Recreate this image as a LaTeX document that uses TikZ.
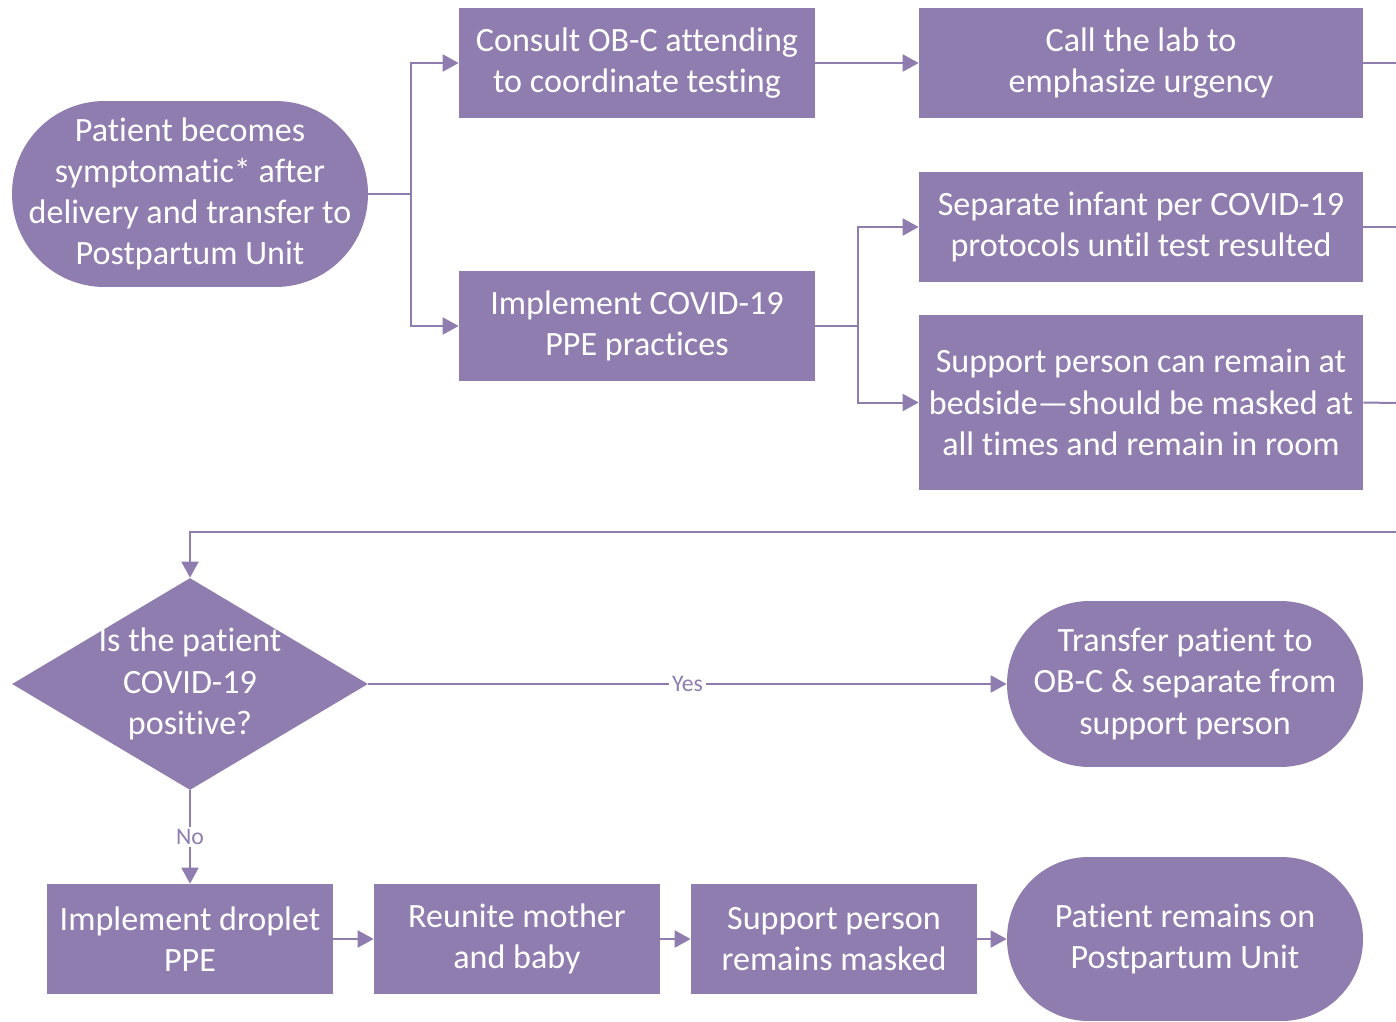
\documentclass[tikz,border=0pt]{standalone}
\usepackage{fontspec}
\setmainfont{Carlito}[Ligatures=NoCommon]
\usetikzlibrary{arrows.meta,shapes.geometric}
\definecolor{lav}{RGB}{143,125,175}

\begin{document}
\begin{tikzpicture}[x=0.02cm, y=-0.02cm,
		box/.style={fill=lav, text=white, align=center, inner sep=0pt, minimum height=2.2cm, font=\fontsize{19.4}{23.4}\selectfont},
		term/.style={box, minimum width=7.12cm},
		arr/.style={draw=lav, line width=0.04cm, -{Triangle[length=0.32cm,width=0.34cm]}},
		link/.style={draw=lav, line width=0.04cm},
		lbl/.style={fill=white, text=lav, inner sep=1.5pt, font=\fontsize{13.5}{15}\selectfont}]
			%%%%% START %%%%%
			
			\useasboundingbox (0, 0) rectangle (1396, 1021);
			
			\node[term, minimum height=3.72cm, rounded corners=1.85cm] (start) at (190, 194) {Patient becomes\\symptomatic* after\\delivery and transfer to\\Postpartum Unit};
			\node[box, minimum width=7.12cm] (consult) at (637, 63) {Consult OB-C attending\\to coordinate testing};
			\node[box, minimum width=7.12cm] (ppe) at (637, 326) {Implement COVID-19\\PPE practices};
			\node[box, minimum width=8.88cm] (lab) at (1141, 63) {Call the lab to\\emphasize urgency};
			\node[box, minimum width=8.88cm] (infant) at (1141, 227) {Separate infant per COVID-19\\protocols until test resulted};
			\node[box, minimum width=8.88cm, minimum height=3.5cm] (support) at (1141, 402.5) {Support person can remain at\\bedside—should be masked at\\all times and remain in room};
			
			\coordinate (e1) at (1396, 63);
			\coordinate (e2) at (1396, 227);
			\coordinate (e3) at (1396, 403);
			\coordinate (e4) at (1396, 532);
			
			\draw[arr] (start.east) -- ++(43, 0) |- (consult.west);
			\draw[arr] (start.east) -- ++(43, 0) |- (ppe.west);
			\draw[arr] (consult.east) -- (lab.west);
			\draw[arr] (ppe.east) -- ++(43, 0) |- (infant.west);
			\draw[arr] (ppe.east) -- ++(43, 0) |- (support.west);
			\draw[link] (lab.east) -- (e1);
			\draw[link] (infant.east) -- (e2);
			\draw[link] (support.east) -- (e3);
			
			\node[diamond, fill=lav, inner sep=0pt, minimum width=7.12cm, minimum height=4.24cm] (dec) at (190, 684) {};
			\node[box, fill=none, minimum height=0pt] (dectext) at (dec) {Is the patient\\COVID-19\\positive?};
			\draw[arr] (e4) -| (dec.north);
			
			\node[term, minimum height=3.32cm, rounded corners=1.65cm] (transfer) at (1185, 684) {Transfer patient to\\OB-C \& separate from\\support person};
			\draw[arr] (dec.east) -- node[lbl] {Yes} (transfer.west);
			
			\node[box, minimum width=5.72cm] (droplet) at (190, 939) {Implement droplet\\PPE};
			\node[box, minimum width=5.72cm] (reunite) at (517, 939) {Reunite mother\\and baby};
			\node[box, minimum width=5.72cm] (masked) at (834, 939) {Support person\\remains masked};
			\node[term, minimum height=3.28cm, rounded corners=1.63cm] (remain) at (1185, 939) {Patient remains on\\Postpartum Unit};
			
			\draw[arr] (dec.south) -- node[lbl] {No} (droplet.north);
			\draw[arr] (droplet.east) -- (reunite.west);
			\draw[arr] (reunite.east) -- (masked.west);
			\draw[arr] (masked.east) -- (remain.west);
			
			%%%%% END %%%%%
\end{tikzpicture}
\end{document}
